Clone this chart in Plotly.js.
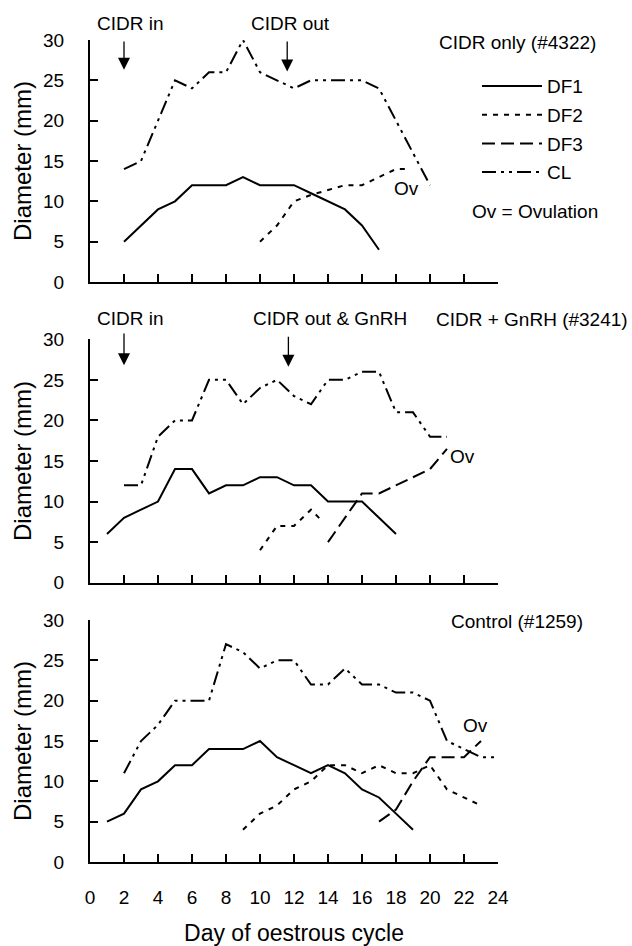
<!DOCTYPE html>
<html>
<head>
<meta charset="utf-8">
<script src="https://cdn.plot.ly/plotly-3.0.1.min.js"></script>
<style>html,body{margin:0;padding:0;background:#fff}#chart{width:632px;height:946px}</style>
</head>
<body>
<div id="chart"></div>
<script>
// ---- Data: CIDR only (#4322) ----
const daysA_DF1 = [2,3,4,5,6,7,8,9,10,11,12,13,14,15,16,17];
const A_DF1     = [5,7,9,10,12,12,12,13,12,12,12,11,10,9,7,4];
const daysA_DF2 = [10,11,12,13,14,15,16,17,18,18.7];
const A_DF2     = [5,7,10,10.8,11.4,12,12,13,14,14];
const daysA_CL  = [2,3,4,5,6,7,8,9,10,11,12,13,14,15,16,17,18,19,20];
const A_CL      = [14,15,20,25,24,26,26,30,26,25,24,25,25,25,25,24,20,16,12];

// ---- Data: CIDR + GnRH (#3241) ----
const daysB_DF1 = [1,2,3,4,5,6,7,8,9,10,11,12,13,14,15,16,17,18];
const B_DF1     = [6,8,9,10,14,14,11,12,12,13,13,12,12,10,10,10,8,6];
const daysB_DF2 = [10,11,12,13,13.6];
const B_DF2     = [4,7,7,9,7.7];
const daysB_DF3 = [14,15,16,17,18,19,20,21];
const B_DF3     = [5,8,11,11,12,13,14,16.5];
const daysB_CL  = [2,3,4,5,6,7,8,9,10,11,12,13,14,15,16,17,18,19,20,21];
const B_CL      = [12,12,18,20,20,25,25,22,24,25,23,22,25,25,26,26,21,21,18,18];

// ---- Data: Control (#1259) ----
const daysC_DF1 = [1,2,3,4,5,6,7,8,9,10,11,12,13,14,15,16,17,18,19];
const C_DF1     = [5,6,9,10,12,12,14,14,14,15,13,12,11,12,11,9,8,6,4];
const daysC_DF2 = [9,10,11,12,13,14,15,16,17,18,19,20,21,22,23];
const C_DF2     = [4,6,7,9,10,12,12,11,12,11,11,12,9,8,7];
const daysC_DF3 = [17,18,19,20,21,22,23];
const C_DF3     = [5,6.5,10,13,13,13,15];
const daysC_CL  = [2,3,4,5,6,7,8,9,10,11,12,13,14,15,16,17,18,19,20,21,22,23,24];
const C_CL      = [11,15,17,20,20,20,27,26,24,25,25,22,22,24,22,22,21,21,20,15,14,13,13];

// ---- Axis ticks ----
const xTickVals = [0,2,4,6,8,10,12,14,16,18,20,22,24];
const xTickText = ['0','2','4','6','8','10','12','14','16','18','20','22','24'];
const yTickVals = [0,5,10,15,20,25,30];

const FONT = 'Liberation Sans, Arial, Helvetica, sans-serif';
const DASH = {
  DF1: 'solid',
  DF2: '5px,6px',
  DF3: '13px,6px',
  CL:  '14px,5px,3px,5px,3px,5px'
};
const RANK = {DF1: 1, DF2: 2, DF3: 3, CL: 4};

function tr(x, y, name, xa, ya, show) {
  return {
    type: 'scatter', mode: 'lines', x: x, y: y, name: name,
    xaxis: xa, yaxis: ya, legendgroup: name, showlegend: show, legendrank: RANK[name],
    line: {color: '#000', width: 2, dash: DASH[name]},
    hoverinfo: 'x+y+name'
  };
}

const data = [
  tr(daysA_DF1, A_DF1, 'DF1', 'x', 'y', true),
  tr(daysA_DF2, A_DF2, 'DF2', 'x', 'y', true),
  tr(daysB_DF3, B_DF3, 'DF3', 'x2', 'y2', true),
  tr(daysA_CL, A_CL, 'CL', 'x', 'y', true),
  tr(daysB_DF1, B_DF1, 'DF1', 'x2', 'y2', false),
  tr(daysB_DF2, B_DF2, 'DF2', 'x2', 'y2', false),
  tr(daysB_CL, B_CL, 'CL', 'x2', 'y2', false),
  tr(daysC_DF1, C_DF1, 'DF1', 'x3', 'y3', false),
  tr(daysC_DF2, C_DF2, 'DF2', 'x3', 'y3', false),
  tr(daysC_DF3, C_DF3, 'DF3', 'x3', 'y3', false),
  tr(daysC_CL, C_CL, 'CL', 'x3', 'y3', false)
];

function xAxis(anchor, labels) {
  const a = {
    anchor: anchor, domain: [0, 1], range: [0, 24],
    showline: true, linewidth: 2, linecolor: '#000',
    ticks: 'inside', ticklen: 8, tickwidth: 2, tickcolor: '#000',
    tickmode: 'array', tickvals: xTickVals, ticktext: xTickText,
    showticklabels: labels, showgrid: false, zeroline: false, fixedrange: true,
    tickfont: {size: 19, color: '#000'}
  };
  if (labels) {
    a.ticklabelstandoff = 17;
    a.title = {text: 'Day of oestrous cycle', font: {size: 23, color: '#000'}, standoff: 19};
  }
  return a;
}
function yAxis(anchor, domain) {
  return {
    anchor: anchor, domain: domain, range: [0, 30],
    showline: true, linewidth: 2, linecolor: '#000',
    ticks: 'inside', ticklen: 8, tickwidth: 2, tickcolor: '#000',
    tickmode: 'array', tickvals: yTickVals,
    showgrid: false, zeroline: false, fixedrange: true,
    tickfont: {size: 19, color: '#000'}, ticklabelstandoff: 20,
    title: {text: 'Diameter (mm)', font: {size: 24, color: '#000'}, standoff: 5}
  };
}

function note(xref, yref, x, y, text) {
  return {xref: xref, yref: yref, x: x, y: y, text: text, showarrow: false,
    font: {size: 19, color: '#000'}, xanchor: 'center', yanchor: 'middle'};
}
function arrow(xref, yref, x, yTip, yTail) {
  return {xref: xref, yref: yref, axref: xref, ayref: yref, x: x, y: yTip, ax: x, ay: yTail,
    text: '', showarrow: true, arrowhead: 2, arrowsize: 1.85, arrowwidth: 1.3, arrowcolor: '#000'};
}

const layout = {
  width: 632, height: 946,
  margin: {l: 90, r: 134, t: 40, b: 84},
  paper_bgcolor: '#fff', plot_bgcolor: '#fff',
  font: {family: FONT, color: '#000', size: 19},
  xaxis: xAxis('y', false),
  xaxis2: xAxis('y2', false),
  xaxis3: xAxis('y3', true),
  yaxis: yAxis('x', [0.7056, 1]),
  yaxis2: yAxis('x2', [0.3398, 0.6359]),
  yaxis3: yAxis('x3', [0, 0.2944]),
  showlegend: true,
  legend: {x: 0.9485, y: 0.967, xanchor: 'left', yanchor: 'top', font: {size: 19, color: '#000'},
    itemwidth: 60, tracegroupgap: 1, traceorder: 'grouped', bgcolor: 'rgba(0,0,0,0)', borderwidth: 0},
  annotations: [
    note('paper', 'paper', 0.0993, 1.0195, 'CIDR in'),
    arrow('x', 'y', 2, 26.3, 30),
    note('paper', 'paper', 0.4902, 1.0195, 'CIDR out'),
    arrow('x', 'y', 11.6, 26.1, 30),
    note('paper', 'paper', 1.049, 0.9964, 'CIDR only (#4322)'),
    note('x', 'y', 18.6, 11.6, 'Ov'),
    note('paper', 'paper', 1.0907, 0.7911, 'Ov = Ovulation'),
    note('paper', 'paper', 0.0998, 0.6606, 'CIDR in'),
    arrow('x2', 'y2', 2, 26.8, 30.9),
    note('paper', 'paper', 0.5882, 0.6606, 'CIDR out &amp; GnRH'),
    arrow('x2', 'y2', 11.67, 26.6, 30.5),
    note('paper', 'paper', 1.0826, 0.6594, 'CIDR + GnRH (#3241)'),
    note('x2', 'y2', 21.9, 15.5, 'Ov'),
    note('paper', 'paper', 1.0466, 0.292, 'Control (#1259)'),
    note('x3', 'y3', 22.7, 16.9, 'Ov')
  ]
};

Plotly.newPlot('chart', data, layout, {displayModeBar: false, staticPlot: true});
</script>
</body>
</html>
